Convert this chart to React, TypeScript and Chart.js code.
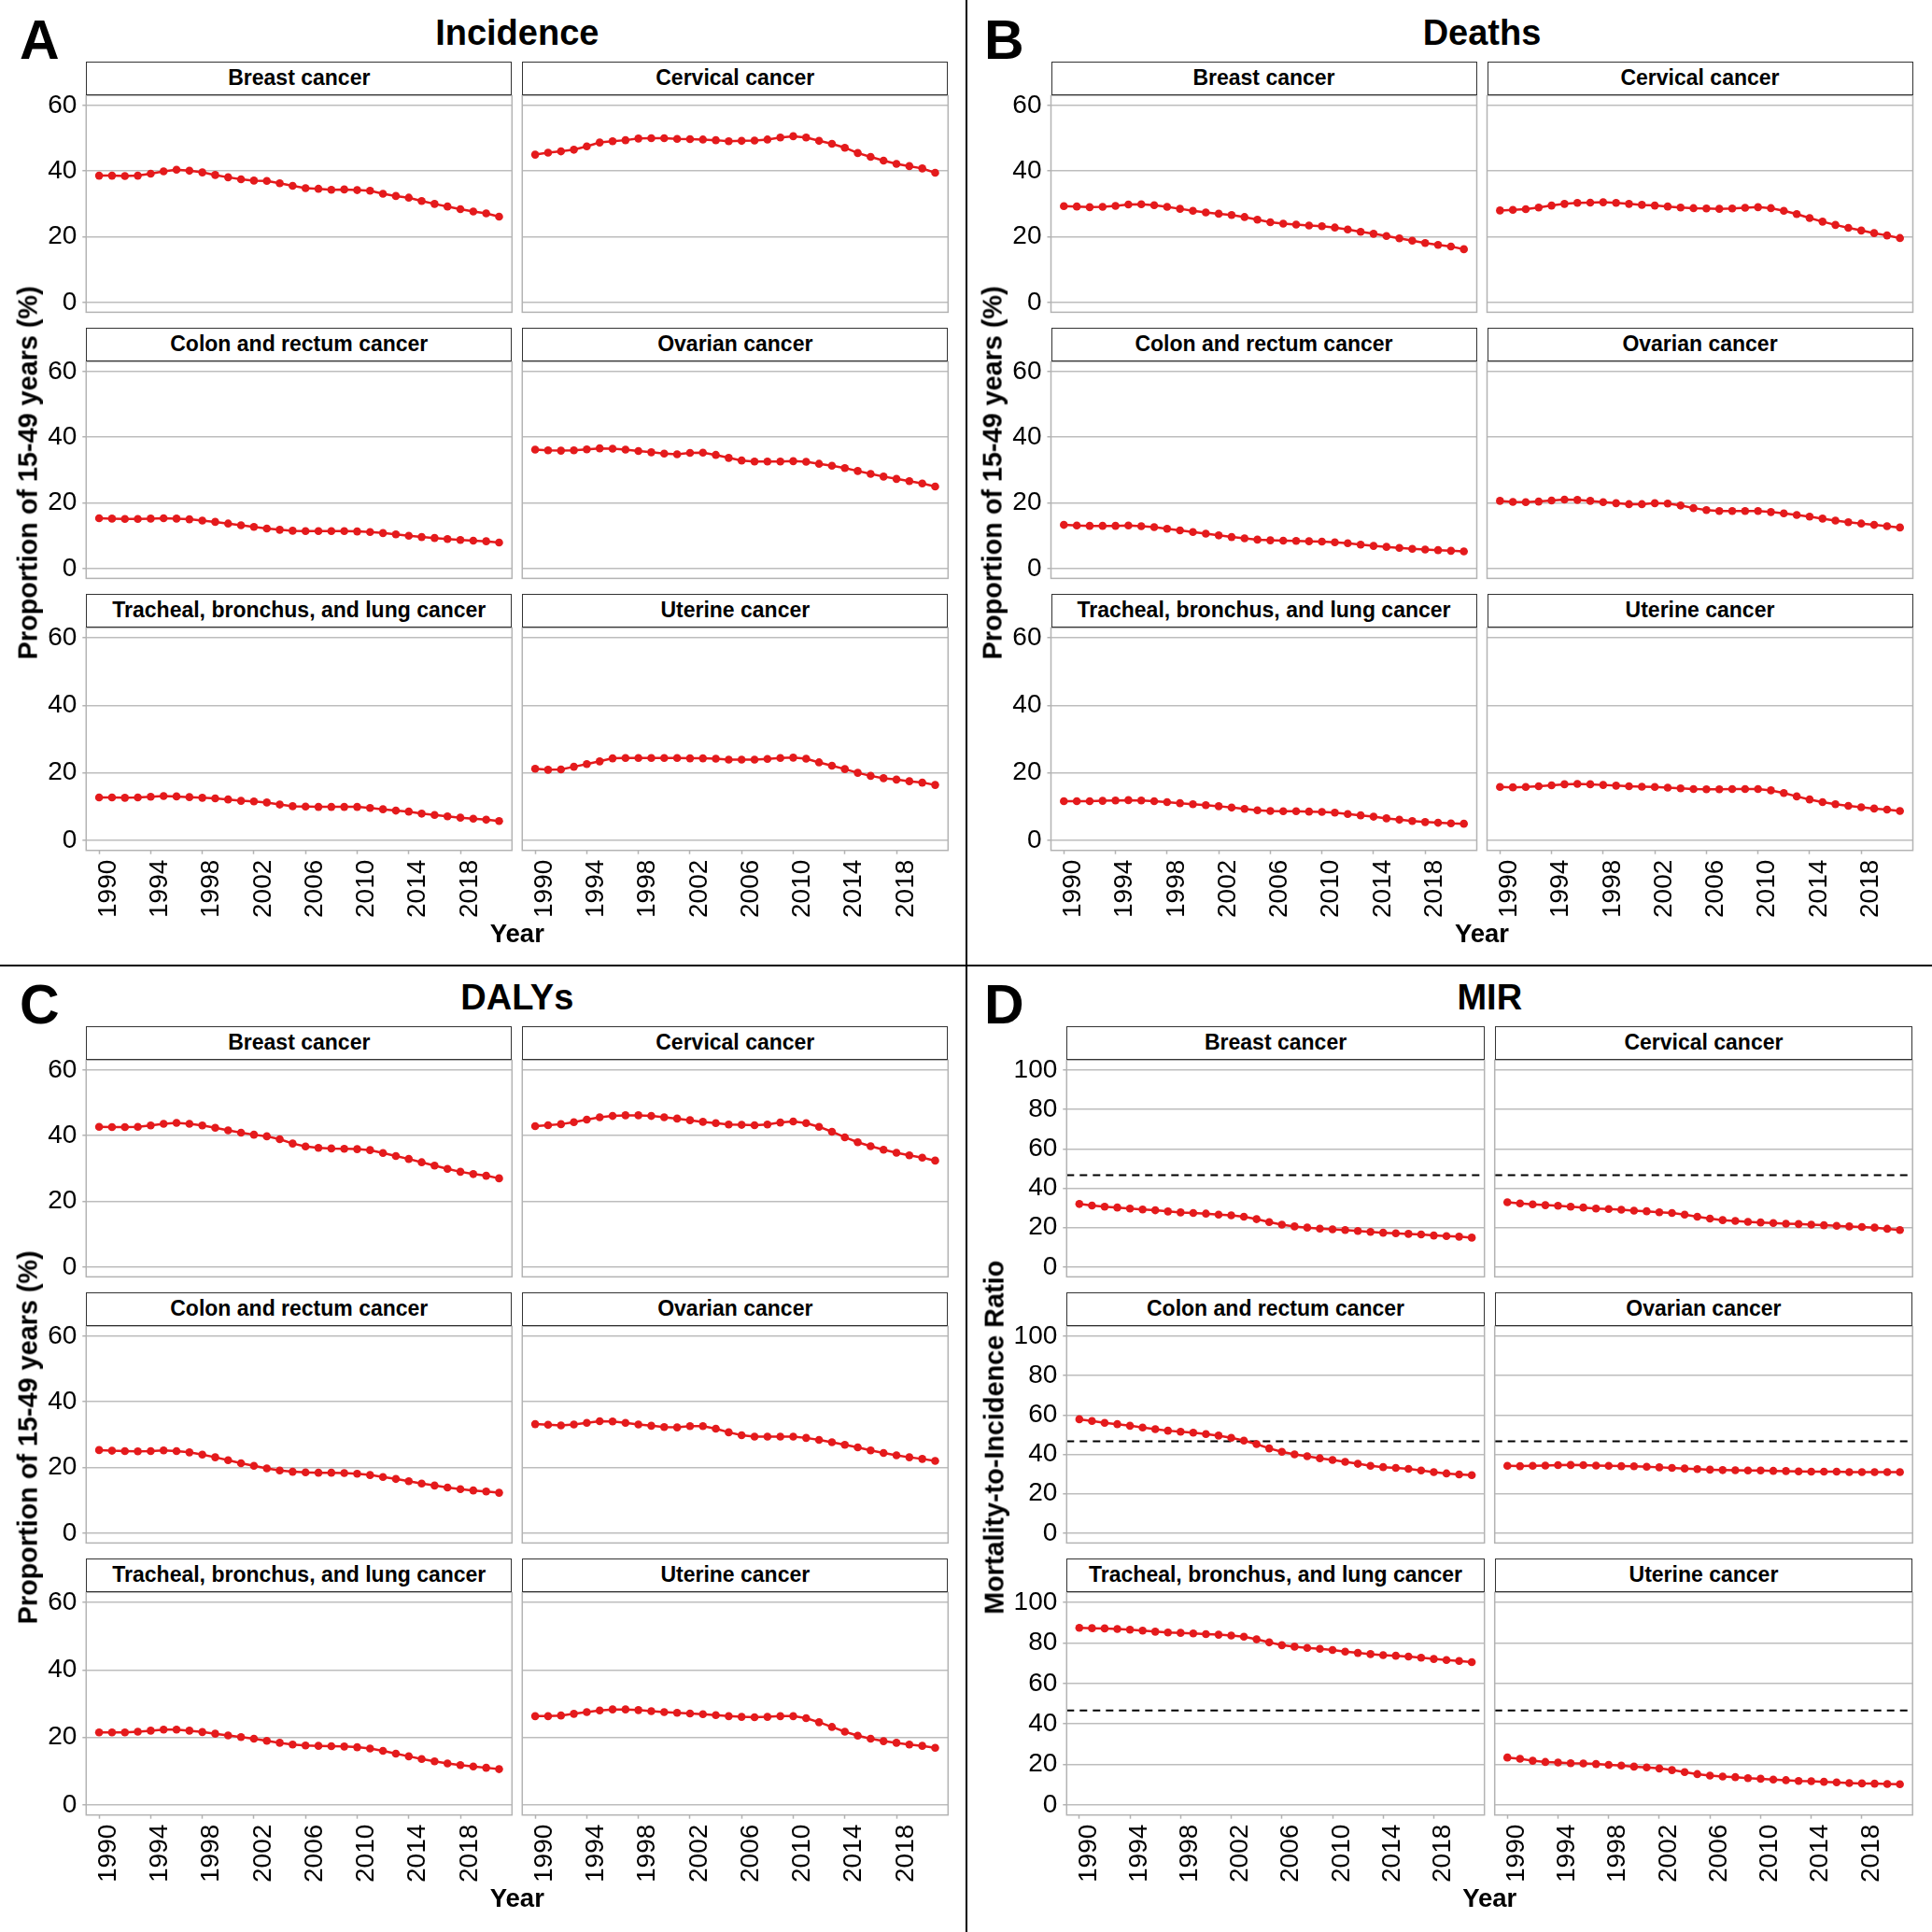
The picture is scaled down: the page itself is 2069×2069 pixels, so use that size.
import React, { useEffect, useRef } from "react";
import { Chart, registerables } from "chart.js";

Chart.register(...registerables);

const FONT = '"Liberation Sans", Arial, Helvetica, sans-serif';
const RED = "#E41A1C";
const GRID = "#bdbdbd";
const PANEL_BORDER = "#b3b3b3";
const STRIP_BORDER = "#333333";

// ---------------- data ----------------
const YEARS = [
  1990, 1991, 1992, 1993, 1994, 1995, 1996, 1997, 1998, 1999, 2000, 2001, 2002, 2003, 2004, 2005,
  2006, 2007, 2008, 2009, 2010, 2011, 2012, 2013, 2014, 2015, 2016, 2017, 2018, 2019, 2020, 2021,
];
const X_TICKS = [1990, 1994, 1998, 2002, 2006, 2010, 2014, 2018];
const X_MIN = 1989;
const X_MAX = 2022;
const PROP_TICKS = [0, 20, 40, 60];
const MIR_TICKS = [0, 20, 40, 60, 80, 100];
const MIR_REFERENCE = 46.6;

const CANCERS = [
  "Breast cancer",
  "Cervical cancer",
  "Colon and rectum cancer",
  "Ovarian cancer",
  "Tracheal, bronchus, and lung cancer",
  "Uterine cancer",
];

const PANEL_LETTERS = ["A", "B", "C", "D"];
const PANEL_TITLES = ["Incidence", "Deaths", "DALYs", "MIR"];
const Y_TITLES = [
  "Proportion of 15-49 years (%)",
  "Proportion of 15-49 years (%)",
  "Proportion of 15-49 years (%)",
  "Mortality-to-Incidence Ratio",
];
const X_TITLE = "Year";

// Incidence
const incBreast = [38.6, 38.6, 38.5, 38.6, 39.2, 39.9, 40.4, 40.1, 39.6, 38.8, 38.1, 37.5, 37.1, 37.0, 36.3, 35.5, 34.8, 34.6, 34.3, 34.4, 34.2, 34.0, 33.1, 32.4, 31.9, 30.9, 30.0, 29.2, 28.4, 27.7, 27.1, 26.1];
const incCervical = [45.0, 45.6, 46.0, 46.5, 47.5, 48.7, 49.1, 49.4, 49.9, 50.0, 50.0, 49.8, 49.7, 49.6, 49.4, 49.1, 49.2, 49.3, 49.6, 50.2, 50.6, 50.2, 49.2, 48.3, 47.1, 45.5, 44.3, 43.2, 42.2, 41.5, 40.8, 39.5];
const incColon = [15.3, 15.2, 15.1, 15.1, 15.2, 15.3, 15.2, 15.0, 14.6, 14.2, 13.7, 13.2, 12.7, 12.2, 11.8, 11.5, 11.4, 11.4, 11.4, 11.4, 11.3, 11.1, 10.8, 10.4, 10.0, 9.6, 9.3, 9.0, 8.7, 8.5, 8.3, 7.9];
const incOvarian = [36.2, 36.0, 35.9, 36.0, 36.3, 36.6, 36.5, 36.2, 35.8, 35.4, 35.0, 34.8, 35.2, 35.3, 34.6, 33.7, 32.9, 32.6, 32.6, 32.6, 32.7, 32.5, 31.9, 31.3, 30.6, 29.7, 28.8, 28.0, 27.3, 26.6, 25.9, 25.0];
const incLung = [12.7, 12.7, 12.6, 12.7, 12.9, 13.1, 13.0, 12.8, 12.6, 12.4, 12.1, 11.7, 11.5, 11.2, 10.6, 10.1, 10.0, 9.9, 9.9, 9.9, 9.9, 9.6, 9.2, 8.8, 8.5, 7.9, 7.5, 7.1, 6.7, 6.4, 6.1, 5.7];
const incUterine = [21.2, 20.9, 21.0, 21.8, 22.6, 23.4, 24.3, 24.4, 24.4, 24.4, 24.4, 24.4, 24.3, 24.3, 24.2, 23.9, 23.9, 23.9, 24.1, 24.4, 24.5, 24.2, 23.1, 22.1, 21.1, 20.0, 19.1, 18.4, 18.0, 17.5, 17.1, 16.4];

// Deaths
const deathBreast = [29.3, 29.2, 29.0, 29.1, 29.4, 29.8, 29.9, 29.6, 29.1, 28.5, 27.9, 27.4, 27.0, 26.6, 26.0, 25.2, 24.4, 24.0, 23.7, 23.4, 23.2, 22.8, 22.2, 21.5, 20.9, 20.2, 19.5, 18.8, 18.1, 17.5, 17.0, 16.2];
const deathCervical = [28.0, 28.2, 28.4, 28.9, 29.5, 30.0, 30.3, 30.4, 30.5, 30.3, 30.0, 29.7, 29.5, 29.2, 28.9, 28.7, 28.6, 28.5, 28.6, 28.8, 29.0, 28.7, 27.9, 26.9, 25.7, 24.6, 23.6, 22.7, 21.9, 21.1, 20.4, 19.6];
const deathColon = [13.3, 13.1, 13.0, 13.0, 13.0, 13.1, 12.9, 12.6, 12.1, 11.6, 11.1, 10.6, 10.1, 9.6, 9.2, 8.8, 8.6, 8.5, 8.4, 8.3, 8.2, 8.0, 7.7, 7.3, 6.9, 6.6, 6.3, 6.0, 5.8, 5.6, 5.4, 5.2];
const deathOvarian = [20.6, 20.3, 20.2, 20.4, 20.7, 21.0, 20.9, 20.6, 20.2, 19.9, 19.6, 19.6, 19.9, 19.8, 19.2, 18.4, 17.8, 17.5, 17.5, 17.5, 17.5, 17.2, 16.8, 16.3, 15.8, 15.2, 14.6, 14.1, 13.7, 13.3, 12.9, 12.5];
const deathLung = [11.6, 11.6, 11.6, 11.7, 11.8, 11.9, 11.8, 11.6, 11.3, 11.0, 10.7, 10.4, 10.1, 9.7, 9.3, 8.9, 8.7, 8.6, 8.6, 8.5, 8.4, 8.2, 7.8, 7.4, 7.0, 6.5, 6.1, 5.7, 5.4, 5.2, 5.0, 4.9];
const deathUterine = [15.8, 15.7, 15.8, 16.0, 16.3, 16.6, 16.7, 16.6, 16.4, 16.2, 16.0, 15.9, 15.8, 15.6, 15.4, 15.2, 15.1, 15.1, 15.2, 15.2, 15.2, 14.8, 14.0, 13.0, 12.1, 11.3, 10.7, 10.2, 9.8, 9.4, 9.1, 8.7];

// DALYs
const dalyBreast = [42.7, 42.6, 42.6, 42.7, 43.1, 43.6, 43.9, 43.6, 43.1, 42.4, 41.6, 40.9, 40.3, 39.8, 38.9, 37.6, 36.7, 36.3, 36.1, 36.0, 35.9, 35.6, 34.7, 33.8, 32.9, 31.9, 30.9, 29.9, 29.0, 28.3, 27.8, 27.0];
const dalyCervical = [42.9, 43.2, 43.5, 44.1, 44.9, 45.6, 46.0, 46.2, 46.2, 46.0, 45.6, 45.2, 44.7, 44.2, 43.8, 43.4, 43.3, 43.2, 43.4, 44.0, 44.3, 43.8, 42.7, 41.2, 39.5, 38.0, 36.8, 35.7, 34.8, 34.0, 33.3, 32.4];
const dalyColon = [25.3, 25.1, 25.0, 24.9, 25.0, 25.2, 25.0, 24.6, 23.9, 23.1, 22.2, 21.3, 20.5, 19.7, 19.1, 18.7, 18.5, 18.4, 18.4, 18.3, 18.1, 17.7, 17.1, 16.5, 15.8, 15.1, 14.5, 13.9, 13.4, 13.0, 12.7, 12.3];
const dalyOvarian = [33.2, 33.0, 32.8, 33.1, 33.6, 34.1, 34.0, 33.6, 33.1, 32.7, 32.3, 32.2, 32.6, 32.6, 31.8, 30.7, 29.8, 29.4, 29.4, 29.4, 29.4, 29.0, 28.4, 27.7, 26.9, 26.1, 25.2, 24.4, 23.7, 23.1, 22.6, 22.0];
const dalyLung = [21.5, 21.5, 21.5, 21.7, 22.0, 22.3, 22.3, 22.0, 21.6, 21.1, 20.6, 20.1, 19.6, 19.0, 18.4, 17.9, 17.6, 17.5, 17.4, 17.3, 17.1, 16.7, 16.0, 15.2, 14.4, 13.6, 12.9, 12.3, 11.8, 11.4, 11.0, 10.6];
const dalyUterine = [26.3, 26.3, 26.5, 27.0, 27.5, 28.0, 28.3, 28.3, 28.1, 27.8, 27.5, 27.3, 27.1, 26.9, 26.6, 26.3, 26.1, 26.0, 26.1, 26.3, 26.3, 25.7, 24.5, 23.1, 21.7, 20.5, 19.6, 18.9, 18.4, 17.9, 17.5, 16.9];

// MIR
const mirBreast = [32.0, 31.2, 30.6, 30.2, 29.7, 29.2, 28.8, 28.2, 27.7, 27.4, 27.1, 26.6, 26.2, 25.5, 24.3, 22.8, 21.5, 20.6, 20.0, 19.5, 19.1, 18.8, 18.3, 17.8, 17.4, 17.1, 16.8, 16.5, 16.0, 15.7, 15.4, 14.9];
const mirCervical = [32.9, 32.3, 31.8, 31.4, 31.1, 30.6, 30.2, 29.7, 29.4, 29.1, 28.6, 28.3, 27.8, 27.4, 26.6, 25.5, 24.6, 23.8, 23.4, 22.9, 22.6, 22.3, 22.0, 21.8, 21.5, 21.2, 20.9, 20.6, 20.3, 20.0, 19.4, 18.8];
const mirColon = [57.8, 56.9, 56.0, 55.3, 54.5, 53.6, 52.8, 52.0, 51.5, 51.0, 50.3, 49.5, 48.4, 47.0, 45.2, 43.0, 41.3, 40.0, 39.0, 38.0, 37.1, 36.2, 35.2, 34.2, 33.5, 33.1, 32.6, 31.8, 31.0, 30.3, 29.8, 29.4];
const mirOvarian = [34.2, 34.0, 34.2, 34.3, 34.5, 34.6, 34.5, 34.3, 34.2, 34.0, 33.9, 33.7, 33.4, 33.1, 32.8, 32.5, 32.2, 32.0, 31.9, 31.8, 31.8, 31.6, 31.5, 31.3, 31.2, 31.2, 31.2, 31.0, 31.0, 31.0, 31.0, 31.0];
const mirLung = [87.5, 87.3, 87.2, 86.9, 86.6, 86.1, 85.6, 85.2, 85.0, 84.7, 84.4, 84.1, 83.7, 83.1, 81.8, 80.3, 78.9, 78.2, 77.6, 77.1, 76.5, 75.7, 75.1, 74.5, 74.0, 73.7, 73.3, 72.7, 72.1, 71.6, 71.1, 70.5];
const mirUterine = [23.4, 22.8, 21.8, 21.2, 20.9, 20.6, 20.5, 20.2, 19.8, 19.4, 18.9, 18.5, 18.0, 17.2, 16.2, 15.2, 14.5, 14.0, 13.7, 13.2, 12.9, 12.5, 12.2, 11.8, 11.7, 11.4, 11.1, 10.8, 10.6, 10.5, 10.3, 10.2];

const PANEL_SERIES = [
  [incBreast, incCervical, incColon, incOvarian, incLung, incUterine],
  [deathBreast, deathCervical, deathColon, deathOvarian, deathLung, deathUterine],
  [dalyBreast, dalyCervical, dalyColon, dalyOvarian, dalyLung, dalyUterine],
  [mirBreast, mirCervical, mirColon, mirOvarian, mirLung, mirUterine],
];

// ---------------- layout ----------------
const Q = 1033; // quadrant offset
const STRIP_H = 36.6;
const PLOT_H = 238.4;
const ROW_PITCH = 285;
const FIRST_STRIP = 65.7;

const LAYOUT = [
  { ox: 0, oy: 0, cols: [92.3, 559.3], colW: 456, yTitleX: 30, mir: false },
  { ox: Q, oy: 0, cols: [1125.5, 1592.5], colW: 456, yTitleX: 1063, mir: false },
  { ox: 0, oy: Q, cols: [92.3, 559.3], colW: 456, yTitleX: 30, mir: false },
  { ox: Q, oy: Q, cols: [1142.3, 1600.7], colW: 447.5, yTitleX: 1065, mir: true },
];

const panelBorderPlugin = {
  id: "panelBorder",
  afterDatasetsDraw(chart: any) {
    const { ctx, chartArea: a } = chart;
    ctx.save();
    ctx.strokeStyle = PANEL_BORDER;
    ctx.lineWidth = 1.5;
    ctx.strokeRect(a.left, a.top, a.right - a.left, a.bottom - a.top);
    ctx.restore();
  },
};

type FacetProps = {
  left: number;
  top: number;
  width: number;
  height: number;
  values: number[];
  yMin: number;
  yMax: number;
  yTicks: number[];
  showY: boolean;
  showX: boolean;
  reference?: number;
};

function Facet(p: FacetProps) {
  const ref = useRef<HTMLCanvasElement | null>(null);
  const leftOuter = p.showY ? 76 : 4;
  const cLeft = Math.floor(p.left - leftOuter);
  const innerLeft = p.left - cLeft;
  const cTop = Math.floor(p.top - 18);
  const innerTop = p.top - cTop;
  const right = p.left + p.width;
  const cRight = Math.ceil(right + 4);
  const padR = cRight - right;
  const bottom = p.top + p.height;
  const below = p.showX ? 94 : 6;
  const cBottom = Math.ceil(bottom + below);
  const belowActual = cBottom - bottom;
  const cw = cRight - cLeft;
  const ch = cBottom - cTop;

  useEffect(() => {
    if (!ref.current) return;
    const datasets: any[] = [
      {
        data: YEARS.map((yr, i) => ({ x: yr, y: p.values[i] })),
        borderColor: RED,
        backgroundColor: RED,
        borderWidth: 2.5,
        pointRadius: 4.3,
        pointBackgroundColor: RED,
        pointBorderColor: RED,
        pointBorderWidth: 0,
        tension: 0,
      },
    ];
    if (p.reference !== undefined) {
      datasets.push({
        data: [
          { x: X_MIN, y: p.reference },
          { x: X_MAX, y: p.reference },
        ],
        borderColor: "#000000",
        borderWidth: 2,
        borderDash: [8, 6],
        pointRadius: 0,
      });
    }
    const chart = new Chart(ref.current, {
      type: "line",
      data: { datasets },
      options: {
        animation: false,
        responsive: false,
        layout: {
          padding: {
            top: innerTop,
            right: padR,
            left: p.showY ? 0 : innerLeft,
            bottom: p.showX ? 0 : belowActual,
          },
        },
        plugins: { legend: { display: false }, tooltip: { enabled: false } },
        scales: {
          x: {
            type: "linear",
            min: X_MIN,
            max: X_MAX,
            display: p.showX,
            border: { display: false },
            grid: {
              drawOnChartArea: false,
              drawTicks: true,
              tickLength: 4,
              tickColor: PANEL_BORDER,
              tickWidth: 1.5,
            },
            ticks: {
              autoSkip: false,
              minRotation: 90,
              maxRotation: 90,
              padding: 6,
              labelOffset: 10,
              color: "#000000",
              font: { family: FONT, size: 28 },
              callback: (v: any) => String(v),
            },
            afterBuildTicks: (s: any) => {
              s.ticks = X_TICKS.map((v) => ({ value: v }));
            },
            afterFit: (s: any) => {
              s.height = belowActual;
              s.paddingLeft = 0;
              s.paddingRight = 0;
              s.paddingTop = 0;
              s.paddingBottom = 0;
            },
          },
          y: {
            type: "linear",
            min: p.yMin,
            max: p.yMax,
            border: { display: false },
            grid: {
              color: GRID,
              lineWidth: 1.5,
              drawTicks: p.showY,
              tickLength: 4,
              tickColor: PANEL_BORDER,
              tickWidth: 1.5,
            },
            ticks: {
              display: p.showY,
              padding: 6,
              color: "#000000",
              font: { family: FONT, size: 28 },
              callback: (v: any) => String(v),
            },
            afterBuildTicks: (s: any) => {
              s.ticks = p.yTicks.map((v) => ({ value: v }));
            },
            afterFit: (s: any) => {
              s.width = p.showY ? innerLeft : 0;
              s.paddingLeft = 0;
              s.paddingRight = 0;
              s.paddingTop = 0;
              s.paddingBottom = 0;
            },
          },
        },
      } as any,
      plugins: [panelBorderPlugin],
    });
    return () => chart.destroy();
  }, []);

  return (
    <canvas
      ref={ref}
      width={cw}
      height={ch}
      style={{ position: "absolute", left: cLeft, top: cTop, width: cw, height: ch }}
    />
  );
}

function HText(props: { cx: number; baseline: number; size: number; text: string; left?: number }) {
  const top = props.baseline - 0.8465 * props.size;
  if (props.left !== undefined) {
    return (
      <div
        style={{
          position: "absolute",
          left: props.left,
          top,
          fontSize: props.size,
          lineHeight: 1,
          fontWeight: "bold",
          whiteSpace: "nowrap",
        }}
      >
        {props.text}
      </div>
    );
  }
  return (
    <div
      style={{
        position: "absolute",
        left: props.cx - 500,
        width: 1000,
        top,
        fontSize: props.size,
        lineHeight: 1,
        fontWeight: "bold",
        textAlign: "center",
        whiteSpace: "nowrap",
      }}
    >
      {props.text}
    </div>
  );
}

function VText(props: { cx: number; cy: number; size: number; text: string }) {
  return (
    <div
      style={{
        position: "absolute",
        left: props.cx - 500,
        top: props.cy - props.size / 2,
        width: 1000,
        height: props.size,
        lineHeight: `${props.size}px`,
        fontSize: props.size,
        fontWeight: "bold",
        textAlign: "center",
        whiteSpace: "nowrap",
        transform: "rotate(-90deg)",
        transformOrigin: "50% 50%",
      }}
    >
      {props.text}
    </div>
  );
}

export default function App() {
  return (
    <div
      style={{
        position: "absolute",
        left: 0,
        top: 0,
        width: 2069,
        height: 2069,
        background: "#ffffff",
        fontFamily: FONT,
        color: "#000000",
        overflow: "hidden",
      }}
    >
      {LAYOUT.map((L, pi) => {
        const centerX = (L.cols[0] + L.cols[1] + L.colW) / 2;
        const plotsTop = L.oy + FIRST_STRIP + STRIP_H;
        const plotsBottom = L.oy + FIRST_STRIP + 2 * ROW_PITCH + STRIP_H + PLOT_H;
        const items: any[] = [];
        PANEL_SERIES[pi].forEach((vals, i) => {
          const row = Math.floor(i / 2);
          const col = i % 2;
          const stripTop = L.oy + FIRST_STRIP + row * ROW_PITCH;
          const plotTop = stripTop + STRIP_H;
          items.push(
            <Facet
              key={`f${pi}-${i}`}
              left={L.cols[col]}
              top={plotTop}
              width={L.colW}
              height={PLOT_H}
              values={vals}
              yMin={L.mir ? -5 : -3}
              yMax={L.mir ? 105 : 63}
              yTicks={L.mir ? MIR_TICKS : PROP_TICKS}
              showY={col === 0}
              showX={row === 2}
              reference={L.mir ? MIR_REFERENCE : undefined}
            />
          );
          items.push(
            <div
              key={`s${pi}-${i}`}
              style={{
                position: "absolute",
                left: L.cols[col],
                top: stripTop,
                width: L.colW,
                height: STRIP_H,
                boxSizing: "border-box",
                border: `1.5px solid ${STRIP_BORDER}`,
                background: "#ffffff",
                display: "flex",
                alignItems: "center",
                justifyContent: "center",
                fontSize: 23,
                fontWeight: "bold",
                whiteSpace: "nowrap",
                zIndex: 2,
              }}
            >
              {CANCERS[i]}
            </div>
          );
        });
        return (
          <React.Fragment key={`p${pi}`}>
            {items}
            <HText cx={0} left={L.ox + 21} baseline={L.oy + 63.5} size={59} text={PANEL_LETTERS[pi]} />
            <HText cx={centerX} baseline={L.oy + 48.5} size={38} text={PANEL_TITLES[pi]} />
            <HText cx={centerX} baseline={L.oy + 1009.7} size={27.5} text={X_TITLE} />
            <VText cx={L.yTitleX} cy={(plotsTop + plotsBottom) / 2} size={28.8} text={Y_TITLES[pi]} />
          </React.Fragment>
        );
      })}
      <div style={{ position: "absolute", left: 1033.5, top: 0, width: 2, height: 2069, background: "#000" }} />
      <div style={{ position: "absolute", left: 0, top: 1032.5, width: 2069, height: 2, background: "#000" }} />
    </div>
  );
}
